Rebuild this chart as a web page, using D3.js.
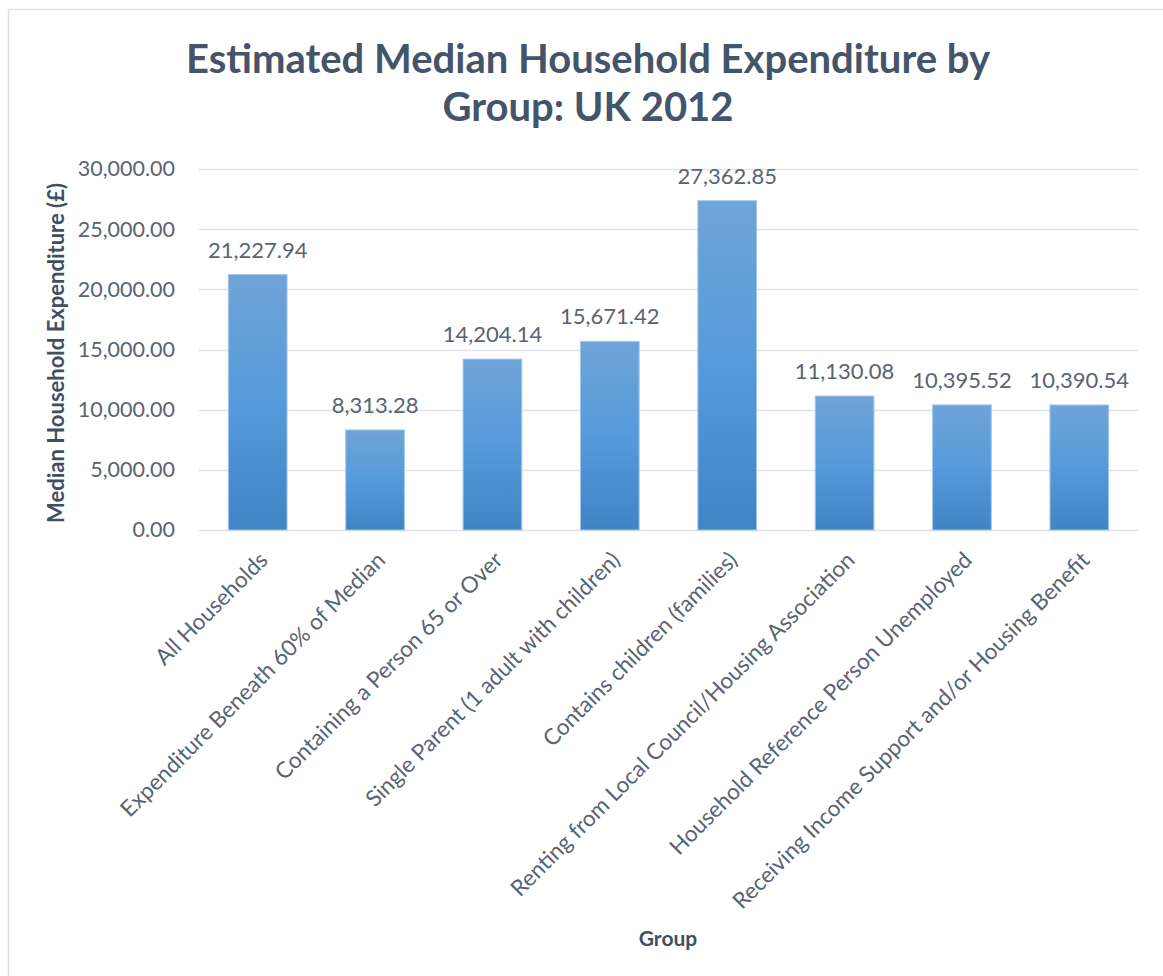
<!DOCTYPE html>
<html>
<head>
<meta charset="utf-8">
<script src="https://cdn.jsdelivr.net/npm/d3@7"></script>
<style>
  html, body { margin: 0; padding: 0; background: #fff; }
  svg { display: block; }
</style>
</head>
<body>
<svg id="chart" width="1163" height="976"></svg>
<script>
// Median household expenditure by household group, UK 2012
const categories = [
  "All Households",
  "Expenditure Beneath 60% of Median",
  "Containing a Person 65 or Over",
  "Single Parent (1 adult with children)",
  "Contains children (families)",
  "Renting from Local Council/Housing Association",
  "Household Reference Person Unemployed",
  "Receiving Income Support and/or Housing Benefit"
];
const values = [21227.94, 8313.28, 14204.14, 15671.42, 27362.85, 11130.08, 10395.52, 10390.54];
const yTicks = [0, 5000, 10000, 15000, 20000, 25000, 30000];
const titleLines = ["Estimated Median Household Expenditure by", "Group: UK 2012"];
const yAxisTitle = "Median Household Expenditure (£)";
const xAxisTitle = "Group";

const svg = d3.select("#chart");
const font = "Lato, 'Open Sans', sans-serif";
const textColor = "#5a6372";
const titleColor = "#44546a";

// Plot area
const plot = { left: 199, right: 1138, top: 169, bottom: 530 };

const x = d3.scaleBand()
  .domain(categories)
  .range([plot.left, plot.right])
  .paddingInner(0.5)
  .paddingOuter(0.25);

const y = d3.scaleLinear()
  .domain([0, 30000])
  .range([plot.bottom, plot.top]);

const fmt = d3.format(",.2f");

// Chart frame
svg.append("rect")
  .attr("x", 8.5).attr("y", 9.5)
  .attr("width", 1170).attr("height", 980)
  .attr("fill", "#fff")
  .attr("stroke", "#d9dee6")
  .attr("stroke-width", 1.3);

// Bar fill gradient
const defs = svg.append("defs");
const grad = defs.append("linearGradient")
  .attr("id", "barGrad")
  .attr("x1", 0).attr("y1", 0).attr("x2", 0).attr("y2", 1);
grad.append("stop").attr("offset", "0%").attr("stop-color", "#6fa4d8");
grad.append("stop").attr("offset", "50%").attr("stop-color", "#559bdb");
grad.append("stop").attr("offset", "100%").attr("stop-color", "#3f85c5");

// Title
svg.append("g").selectAll("text")
  .data(titleLines)
  .join("text")
  .attr("x", 588)
  .attr("y", (d, i) => 73 + i * 48)
  .attr("text-anchor", "middle")
  .attr("font-family", font)
  .attr("font-weight", 700)
  .attr("font-size", 40)
  .attr("fill", titleColor)
  .text(d => d);

// Horizontal gridlines
svg.append("g").selectAll("line")
  .data(yTicks)
  .join("line")
  .attr("x1", plot.left).attr("x2", plot.right)
  .attr("y1", d => Math.round(y(d)) + 0.5)
  .attr("y2", d => Math.round(y(d)) + 0.5)
  .attr("stroke", "#e0e4ea")
  .attr("stroke-width", 1.5);

// Y axis labels
const yAxis = d3.axisLeft(y)
  .tickValues(yTicks)
  .tickFormat(fmt)
  .tickSize(0)
  .tickPadding(0);
const yg = svg.append("g")
  .attr("transform", `translate(${plot.left - 24},0)`)
  .call(yAxis);
yg.select(".domain").remove();
yg.selectAll("text")
  .attr("font-family", font)
  .attr("font-size", 21.5)
  .attr("fill", textColor);

// Bars
svg.append("g").selectAll("rect")
  .data(values)
  .join("rect")
  .attr("x", (d, i) => x(categories[i]))
  .attr("y", d => y(d))
  .attr("width", x.bandwidth())
  .attr("height", d => y(0) - y(d))
  .attr("fill", "url(#barGrad)")
  .attr("stroke", "#a3c6e8")
  .attr("stroke-width", 1);

// Value labels
svg.append("g").selectAll("text")
  .data(values)
  .join("text")
  .attr("x", (d, i) => x(categories[i]) + x.bandwidth() / 2)
  .attr("y", d => y(d) - 17)
  .attr("text-anchor", "middle")
  .attr("font-family", font)
  .attr("font-size", 22)
  .attr("fill", textColor)
  .text(d => fmt(d));

// X axis category labels (rotated)
const xAxis = d3.axisBottom(x).tickSize(0).tickPadding(0);
const xg = svg.append("g")
  .attr("transform", `translate(0,${plot.bottom})`)
  .call(xAxis);
xg.select(".domain").remove();
xg.selectAll("text")
  .attr("font-family", font)
  .attr("font-size", 22.5)
  .attr("fill", textColor)
  .attr("text-anchor", "end")
  .attr("dy", "0.35em")
  .attr("transform", "translate(6,26) rotate(-45)");

// Axis titles
svg.append("text")
  .attr("transform", `translate(64,353) rotate(-90)`)
  .attr("text-anchor", "middle")
  .attr("font-family", font)
  .attr("font-weight", 700)
  .attr("font-size", 22)
  .attr("fill", "#404f63")
  .text(yAxisTitle);

svg.append("text")
  .attr("x", 668)
  .attr("y", 946)
  .attr("text-anchor", "middle")
  .attr("font-family", font)
  .attr("font-weight", 700)
  .attr("font-size", 21)
  .attr("fill", "#404f63")
  .text(xAxisTitle);
</script>
</body>
</html>
